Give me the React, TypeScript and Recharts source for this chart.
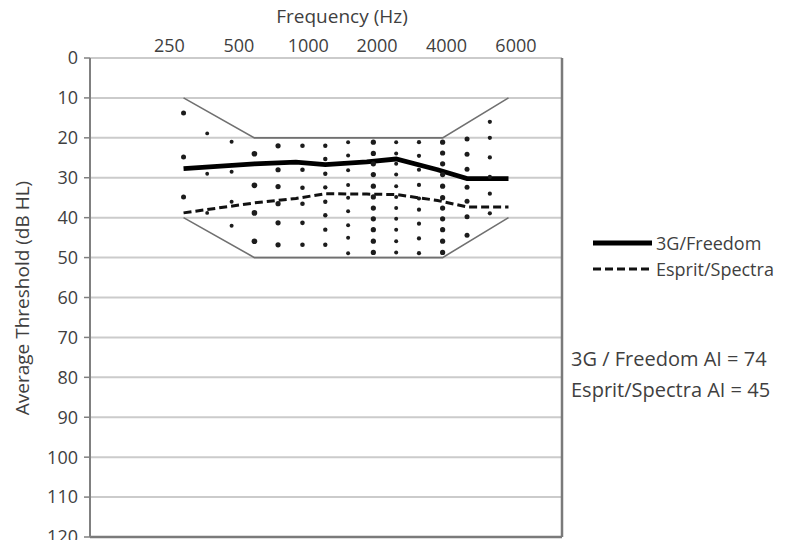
import {
  ComposedChart,
  Line,
  Scatter,
  XAxis,
  YAxis,
  CartesianGrid,
  ReferenceLine,
} from 'recharts';

const FONT = '"Open Sans", "Liberation Sans", sans-serif';
const TEXT = '#3f3f3f';

// frequency captions along the top, and where Excel put them (octaves above 250 Hz)
const freqLabels = ['250', '500', '1000', '2000', '4000', '6000'];
const freqLabelPos = [-0.2, 0.78, 1.76, 2.73, 3.71, 4.69];
const dbTicks = [0, 10, 20, 30, 40, 50, 60, 70, 80, 90, 100, 110, 120];

// average thresholds (dB HL)
const thresholdFreqs = [250, 500, 750, 1000, 1500, 2000, 3000, 4000, 6000];
const freedom3G = [27.7, 26.5, 26.1, 26.7, 26.0, 25.3, 28.0, 30.2, 30.2];
const espritSpectra = [38.8, 36.3, 35.2, 34.0, 34.1, 34.2, 35.7, 37.3, 37.3];

// speech area outline
const bananaFreqs = [250, 500, 3150, 6000];
const bananaTop = [10, 20, 20, 10];
const bananaBottom = [40, 50, 50, 40];

// count-the-dots, one column per 1/3 octave band
const dotFreqs = [250, 315, 400, 500, 630, 800, 1000, 1250, 1600, 2000, 2500, 3150, 4000, 5000];
const dotLevels = [
  [13.8, 24.8, 34.8],
  [18.9, 29.0, 38.8],
  [21.0, 28.5, 36.0, 42.0],
  [24.0, 31.9, 38.8, 45.9],
  [22.0, 28.0, 32.2, 36.5, 41.3, 46.8],
  [22.0, 28.0, 32.5, 36.5, 41.3, 46.8],
  [22.0, 25.3, 29.0, 32.4, 36.0, 39.4, 43.0, 46.8],
  [21.1, 24.4, 28.1, 31.8, 35.0, 38.4, 41.9, 45.0, 48.9],
  [21.1, 23.9, 26.5, 29.2, 32.1, 34.8, 37.6, 40.3, 43.0, 45.9, 48.7],
  [21.1, 23.9, 26.5, 29.2, 32.1, 34.8, 37.6, 40.3, 43.0, 45.9, 48.7],
  [21.1, 24.5, 28.0, 31.8, 35.2, 38.0, 41.5, 45.2, 48.9],
  [21.1, 23.8, 26.5, 29.2, 32.1, 35.0, 37.6, 40.3, 43.0, 45.9, 48.7],
  [20.3, 24.1, 27.9, 32.4, 35.9, 39.8, 44.4],
  [16.0, 20.0, 24.9, 29.8, 34.0, 38.9],
];
const dotRadius = [2.5, 1.9, 2.0, 2.8, 2.6, 2.3, 2.2, 2.0, 2.6, 2.0, 2.1, 2.6, 2.5, 2.1];

const toOct = (f: number) => Math.log2(f / 250);

const pairs = (freqs: number[], vals: number[]) =>
  freqs.map((f, i) => ({ x: toOct(f), y: vals[i] }));

const X_MIN = -1.32;
const X_MAX = 5.34;

export default function App() {
  const dots = dotFreqs.flatMap((f, i) =>
    dotLevels[i].map((db) => ({ x: toOct(f), y: db, col: i }))
  );

  return (
    <div
      style={{
        position: 'relative',
        width: 785,
        height: 548,
        margin: -8,
        fontFamily: FONT,
        color: TEXT,
        background: '#fff',
      }}
    >
      <ComposedChart
        width={785}
        height={548}
        margin={{ top: 28, right: 223, bottom: 11, left: 20 }}
      >
        <CartesianGrid vertical={false} stroke="#cbcbcb" strokeWidth={2} />
        <XAxis
          type="number"
          dataKey="x"
          orientation="top"
          domain={[X_MIN, X_MAX]}
          ticks={freqLabelPos}
          interval={0}
          tickFormatter={(v: number) => freqLabels[freqLabelPos.indexOf(v)]}
          axisLine={false}
          tickLine={false}
          tickSize={4}
          height={30}
          tick={{ fill: TEXT, fontSize: 18, fontFamily: FONT }}
        />
        <YAxis
          type="number"
          dataKey="y"
          domain={[0, 120]}
          reversed
          ticks={dbTicks}
          interval={0}
          width={70}
          tickSize={6}
          tickMargin={6}
          axisLine={{ stroke: '#808080', strokeWidth: 2 }}
          tickLine={{ stroke: '#808080', strokeWidth: 1.5 }}
          tick={{ fill: TEXT, fontSize: 18, fontFamily: FONT }}
        />
        <ReferenceLine y={120} stroke="#7a7a7a" strokeWidth={2.5} />
        <ReferenceLine x={X_MAX} stroke="#7a7a7a" strokeWidth={2.5} />

        <Line
          data={pairs(bananaFreqs, bananaTop)}
          dataKey="y"
          type="linear"
          stroke="#707070"
          strokeWidth={1.6}
          dot={false}
          isAnimationActive={false}
        />
        <Line
          data={pairs(bananaFreqs, bananaBottom)}
          dataKey="y"
          type="linear"
          stroke="#707070"
          strokeWidth={1.6}
          dot={false}
          isAnimationActive={false}
        />
        <Scatter
          data={dots}
          dataKey="y"
          isAnimationActive={false}
          shape={(p: any) => (
            <circle cx={p.cx} cy={p.cy} r={dotRadius[p.payload.col]} fill="#1c1c1c" />
          )}
        />
        <Line
          data={pairs(thresholdFreqs, espritSpectra)}
          dataKey="y"
          type="linear"
          stroke="#111"
          strokeWidth={3}
          strokeDasharray="8 4"
          dot={false}
          isAnimationActive={false}
        />
        <Line
          data={pairs(thresholdFreqs, freedom3G)}
          dataKey="y"
          type="linear"
          stroke="#000"
          strokeWidth={4.8}
          dot={false}
          isAnimationActive={false}
        />
      </ComposedChart>

      <div
        style={{
          position: 'absolute',
          left: 342,
          top: 16,
          transform: 'translate(-50%, -50%)',
          fontSize: 19,
          whiteSpace: 'nowrap',
        }}
      >
        Frequency (Hz)
      </div>
      <div
        style={{
          position: 'absolute',
          left: 22,
          top: 298,
          transform: 'translate(-50%, -50%) rotate(-90deg)',
          fontSize: 19,
          whiteSpace: 'nowrap',
        }}
      >
        Average Threshold (dB HL)
      </div>

      {/* legend */}
      <svg style={{ position: 'absolute', left: 590, top: 230 }} width={66} height={50}>
        <line x1={3} x2={62} y1={13} y2={13} stroke="#000" strokeWidth={4.8} />
        <line x1={3} x2={62} y1={39} y2={39} stroke="#111" strokeWidth={3} strokeDasharray="8 4" />
      </svg>
      <div style={{ position: 'absolute', left: 656, top: 230, fontSize: 18, lineHeight: '26px' }}>
        3G/Freedom
      </div>
      <div style={{ position: 'absolute', left: 656, top: 256, fontSize: 18, lineHeight: '26px' }}>
        Esprit/Spectra
      </div>

      <div
        style={{
          position: 'absolute',
          left: 571,
          top: 343,
          fontSize: 20,
          lineHeight: '31px',
          whiteSpace: 'nowrap',
        }}
      >
        <div>3G / Freedom AI = 74</div>
        <div>Esprit/Spectra AI = 45</div>
      </div>
    </div>
  );
}
